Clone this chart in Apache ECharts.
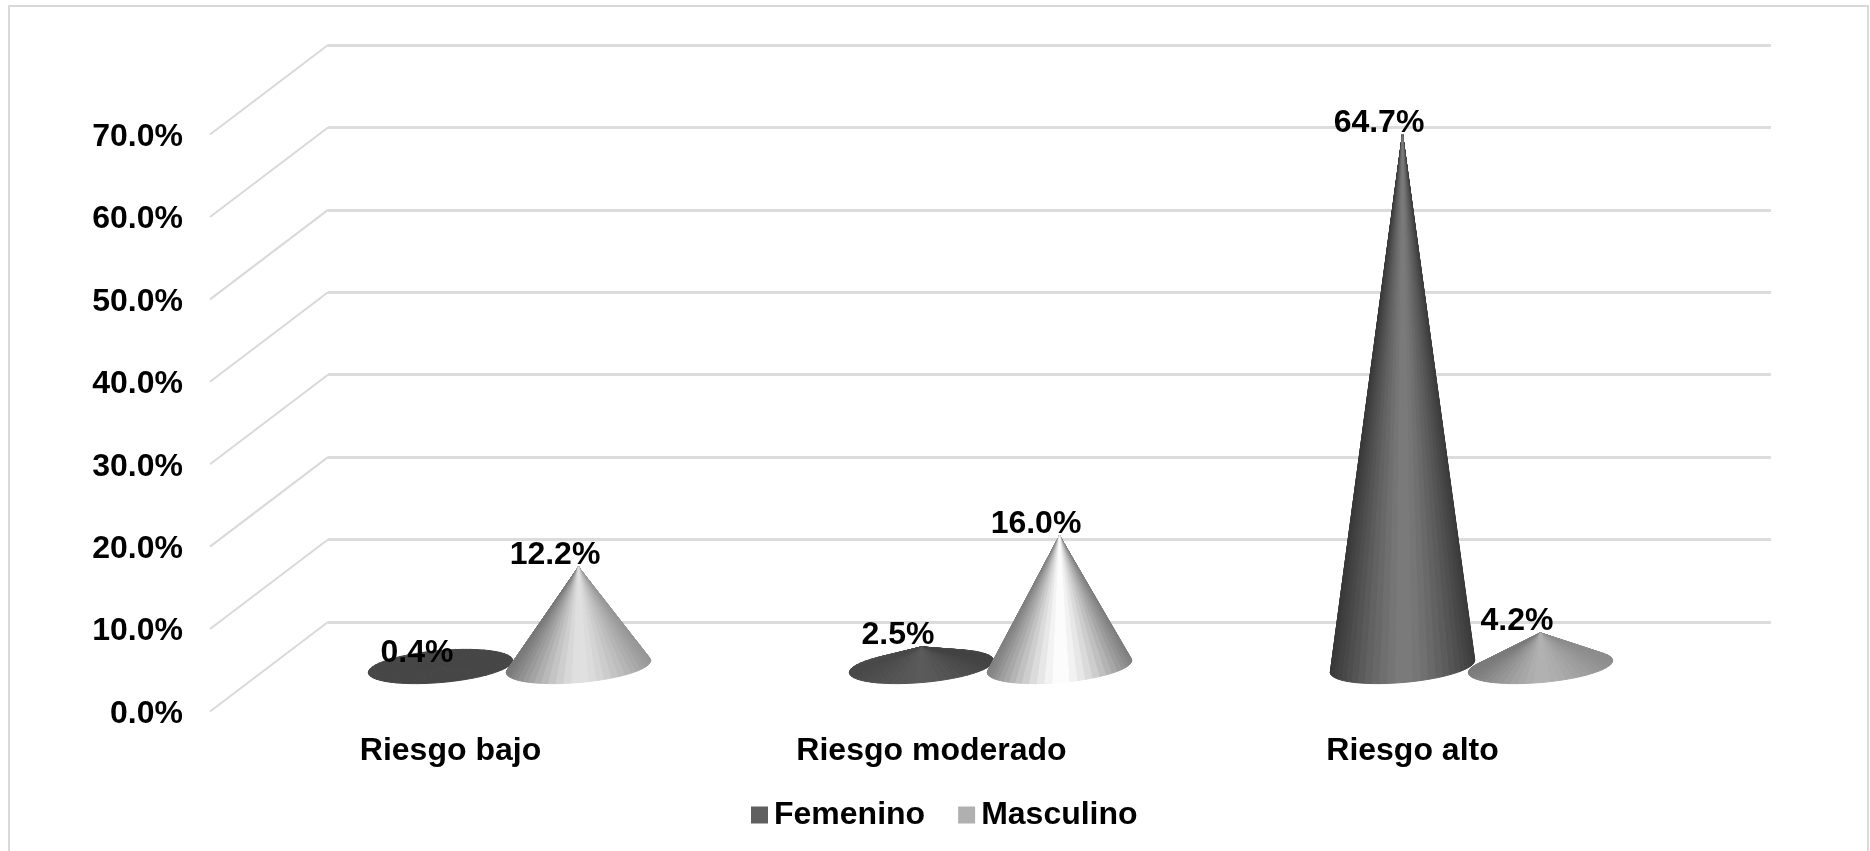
<!DOCTYPE html>
<html>
<head>
<meta charset="utf-8">
<style>
  html, body { margin: 0; padding: 0; background: #fff; }
  #chart { width: 1870px; height: 851px; }
</style>
<script src="https://cdn.jsdelivr.net/npm/echarts@6/dist/echarts.min.js"></script>
</head>
<body>
<div id="chart"></div>
<script>
// Risk level by sex, shown as 3D-looking cones on a receding floor.
const categories = ['Riesgo bajo', 'Riesgo moderado', 'Riesgo alto'];
const femenino = [0.4, 2.5, 64.7];
const masculino = [12.2, 16.0, 4.2];
const axisMin = 0;
const axisMax = 70;
const axisStep = 10;
const gridTicks = [0, 10, 20, 30, 40, 50, 60, 70];

// Grey levels per cone: [left edge, highlight, right edge]
const femeninoShades = [[70, 70, 70], [66, 90, 72], [58, 124, 56]];
const masculinoShades = [[150, 226, 120], [126, 255, 128], [140, 178, 122]];

const FONT = '"Liberation Sans", Arial, sans-serif';
const GRID_COLOR = '#d9d9d9';
const DEPTH_X = 118;
const DEPTH_Y = 89.5;
const CONE_OFFSET = 69;
const RADIUS_X = 72.5;
const RADIUS_Y = 16;
const TILT = -5 * Math.PI / 180;
const FACETS = 56;

function grey(v) {
  const c = Math.max(0, Math.min(255, Math.round(v)));
  return 'rgb(' + c + ',' + c + ',' + c + ')';
}

// Fan of triangles from the apex to the base ellipse, painted back to front.
function coneRenderer(values, shades, side) {
  return function (params, api) {
    const cat = api.value(0);
    const val = api.value(1);
    const base = api.coord([cat, 0]);
    const apex = api.coord([cat, val]);
    const cx = base[0] + side * CONE_OFFSET;
    const cy = base[1] - 1;
    const ax = apex[0] + side * CONE_OFFSET;
    const ay = apex[1];
    const shade = shades[params.dataIndex];
    const cosT = Math.cos(TILT);
    const sinT = Math.sin(TILT);
    const point = function (t) {
      const lx = RADIUS_X * Math.cos(t);
      const ly = RADIUS_Y * Math.sin(t);
      return [cx + lx * cosT - ly * sinT, cy + lx * sinT + ly * cosT];
    };
    const facets = [];
    for (let i = 0; i < FACETS; i++) {
      const t0 = (i / FACETS) * Math.PI * 2;
      const t1 = ((i + 1) / FACETS) * Math.PI * 2;
      const tm = (t0 + t1) / 2;
      const u = (1 + Math.cos(Math.PI - tm)) / 2;
      const f = 1 - Math.pow(Math.abs(2 * u - 1), 1.3);
      const edge = u < 0.5 ? shade[0] : shade[2];
      facets.push({ order: Math.sin(tm), a: point(t0), b: point(t1), color: grey(edge + (shade[1] - edge) * f) });
    }
    facets.sort(function (p, q) { return p.order - q.order; });
    const children = facets.map(function (f) {
      return {
        type: 'polygon',
        shape: { points: [[ax, ay], f.a, f.b] },
        style: { fill: f.color, stroke: f.color, lineWidth: 1, lineJoin: 'round' }
      };
    });
    children.push({
      type: 'text',
      z2: 10,
      style: {
        text: val.toFixed(1) + '%',
        x: ax - 23.5,
        y: ay - 11.5,
        align: 'center',
        verticalAlign: 'middle',
        fill: '#000',
        font: 'bold 32px ' + FONT
      }
    });
    return { type: 'group', children: children };
  };
}

// Oblique lines joining each front tick to the back wall gridline.
function floorLines(params, api) {
  const back = api.coord([0, api.value(0)]);
  return {
    type: 'line',
    shape: { x1: back[0] - DEPTH_X, y1: back[1] + DEPTH_Y, x2: back[0], y2: back[1] },
    style: { stroke: GRID_COLOR, lineWidth: 2 }
  };
}

const chart = echarts.init(document.getElementById('chart'), null, { renderer: 'canvas' });
chart.setOption({
  animation: false,
  backgroundColor: '#fff',
  graphic: [{
    type: 'rect',
    silent: true,
    shape: { x: 9, y: 6, width: 1859, height: 900 },
    style: { fill: 'none', stroke: GRID_COLOR, lineWidth: 2 }
  }],
  legend: {
    left: 751,
    top: 799,
    padding: 0,
    itemWidth: 17,
    itemHeight: 17,
    itemGap: 33,
    icon: 'rect',
    selectedMode: false,
    data: ['Femenino', 'Masculino'],
    textStyle: { color: '#000', fontFamily: FONT, fontWeight: 'bold', fontSize: 32, padding: [0, 0, 0, 1] }
  },
  grid: [
    { left: 210, width: 1443, top: 137, height: 577 },     // label plane: axis labels
    { left: 328, width: 1443, top: 45, height: 577 },      // back wall: gridlines
    { left: 269, width: 1443, top: 90.5, height: 577 }     // mid depth: cones
  ],
  xAxis: [
    {
      gridIndex: 0, type: 'category', data: categories,
      axisLine: { show: false }, axisTick: { show: false }, splitLine: { show: false },
      axisLabel: { color: '#000', fontFamily: FONT, fontWeight: 'bold', fontSize: 32, margin: 21 }
    },
    { gridIndex: 1, type: 'value', min: 0, max: 1, show: false },
    { gridIndex: 2, type: 'category', data: categories, show: false }
  ],
  yAxis: [
    {
      gridIndex: 0, type: 'value', min: axisMin, max: axisMax, interval: axisStep,
      axisLine: { show: false }, axisTick: { show: false }, splitLine: { show: false },
      axisLabel: {
        color: '#000', fontFamily: FONT, fontWeight: 'bold', fontSize: 32, margin: 27,
        formatter: function (v) { return v.toFixed(1) + '%'; }
      }
    },
    {
      gridIndex: 1, type: 'value', min: axisMin, max: axisMax, interval: axisStep,
      axisLine: { show: false }, axisTick: { show: false }, axisLabel: { show: false },
      splitLine: { show: true, lineStyle: { color: '#dcdcdc', width: 3 } }
    },
    { gridIndex: 2, type: 'value', min: axisMin, max: axisMax, interval: axisStep, show: false }
  ],
  series: [
    {
      type: 'custom',
      name: 'floor',
      xAxisIndex: 1, yAxisIndex: 1,
      silent: true,
      clip: false,
      encode: { x: -1, y: 0 },
      data: gridTicks.map(function (t) { return [t]; }),
      renderItem: floorLines,
      z: 1
    },
    {
      type: 'custom',
      name: 'Femenino',
      xAxisIndex: 2, yAxisIndex: 2,
      clip: false,
      itemStyle: { color: '#5f5f5f' },
      encode: { x: 0, y: 1 },
      data: femenino.map(function (v, i) { return [i, v]; }),
      renderItem: coneRenderer(femenino, femeninoShades, -1),
      z: 3
    },
    {
      type: 'custom',
      name: 'Masculino',
      xAxisIndex: 2, yAxisIndex: 2,
      clip: false,
      itemStyle: { color: '#b0b0b0' },
      encode: { x: 0, y: 1 },
      data: masculino.map(function (v, i) { return [i, v]; }),
      renderItem: coneRenderer(masculino, masculinoShades, 1),
      z: 4
    }
  ]
});
</script>
</body>
</html>
